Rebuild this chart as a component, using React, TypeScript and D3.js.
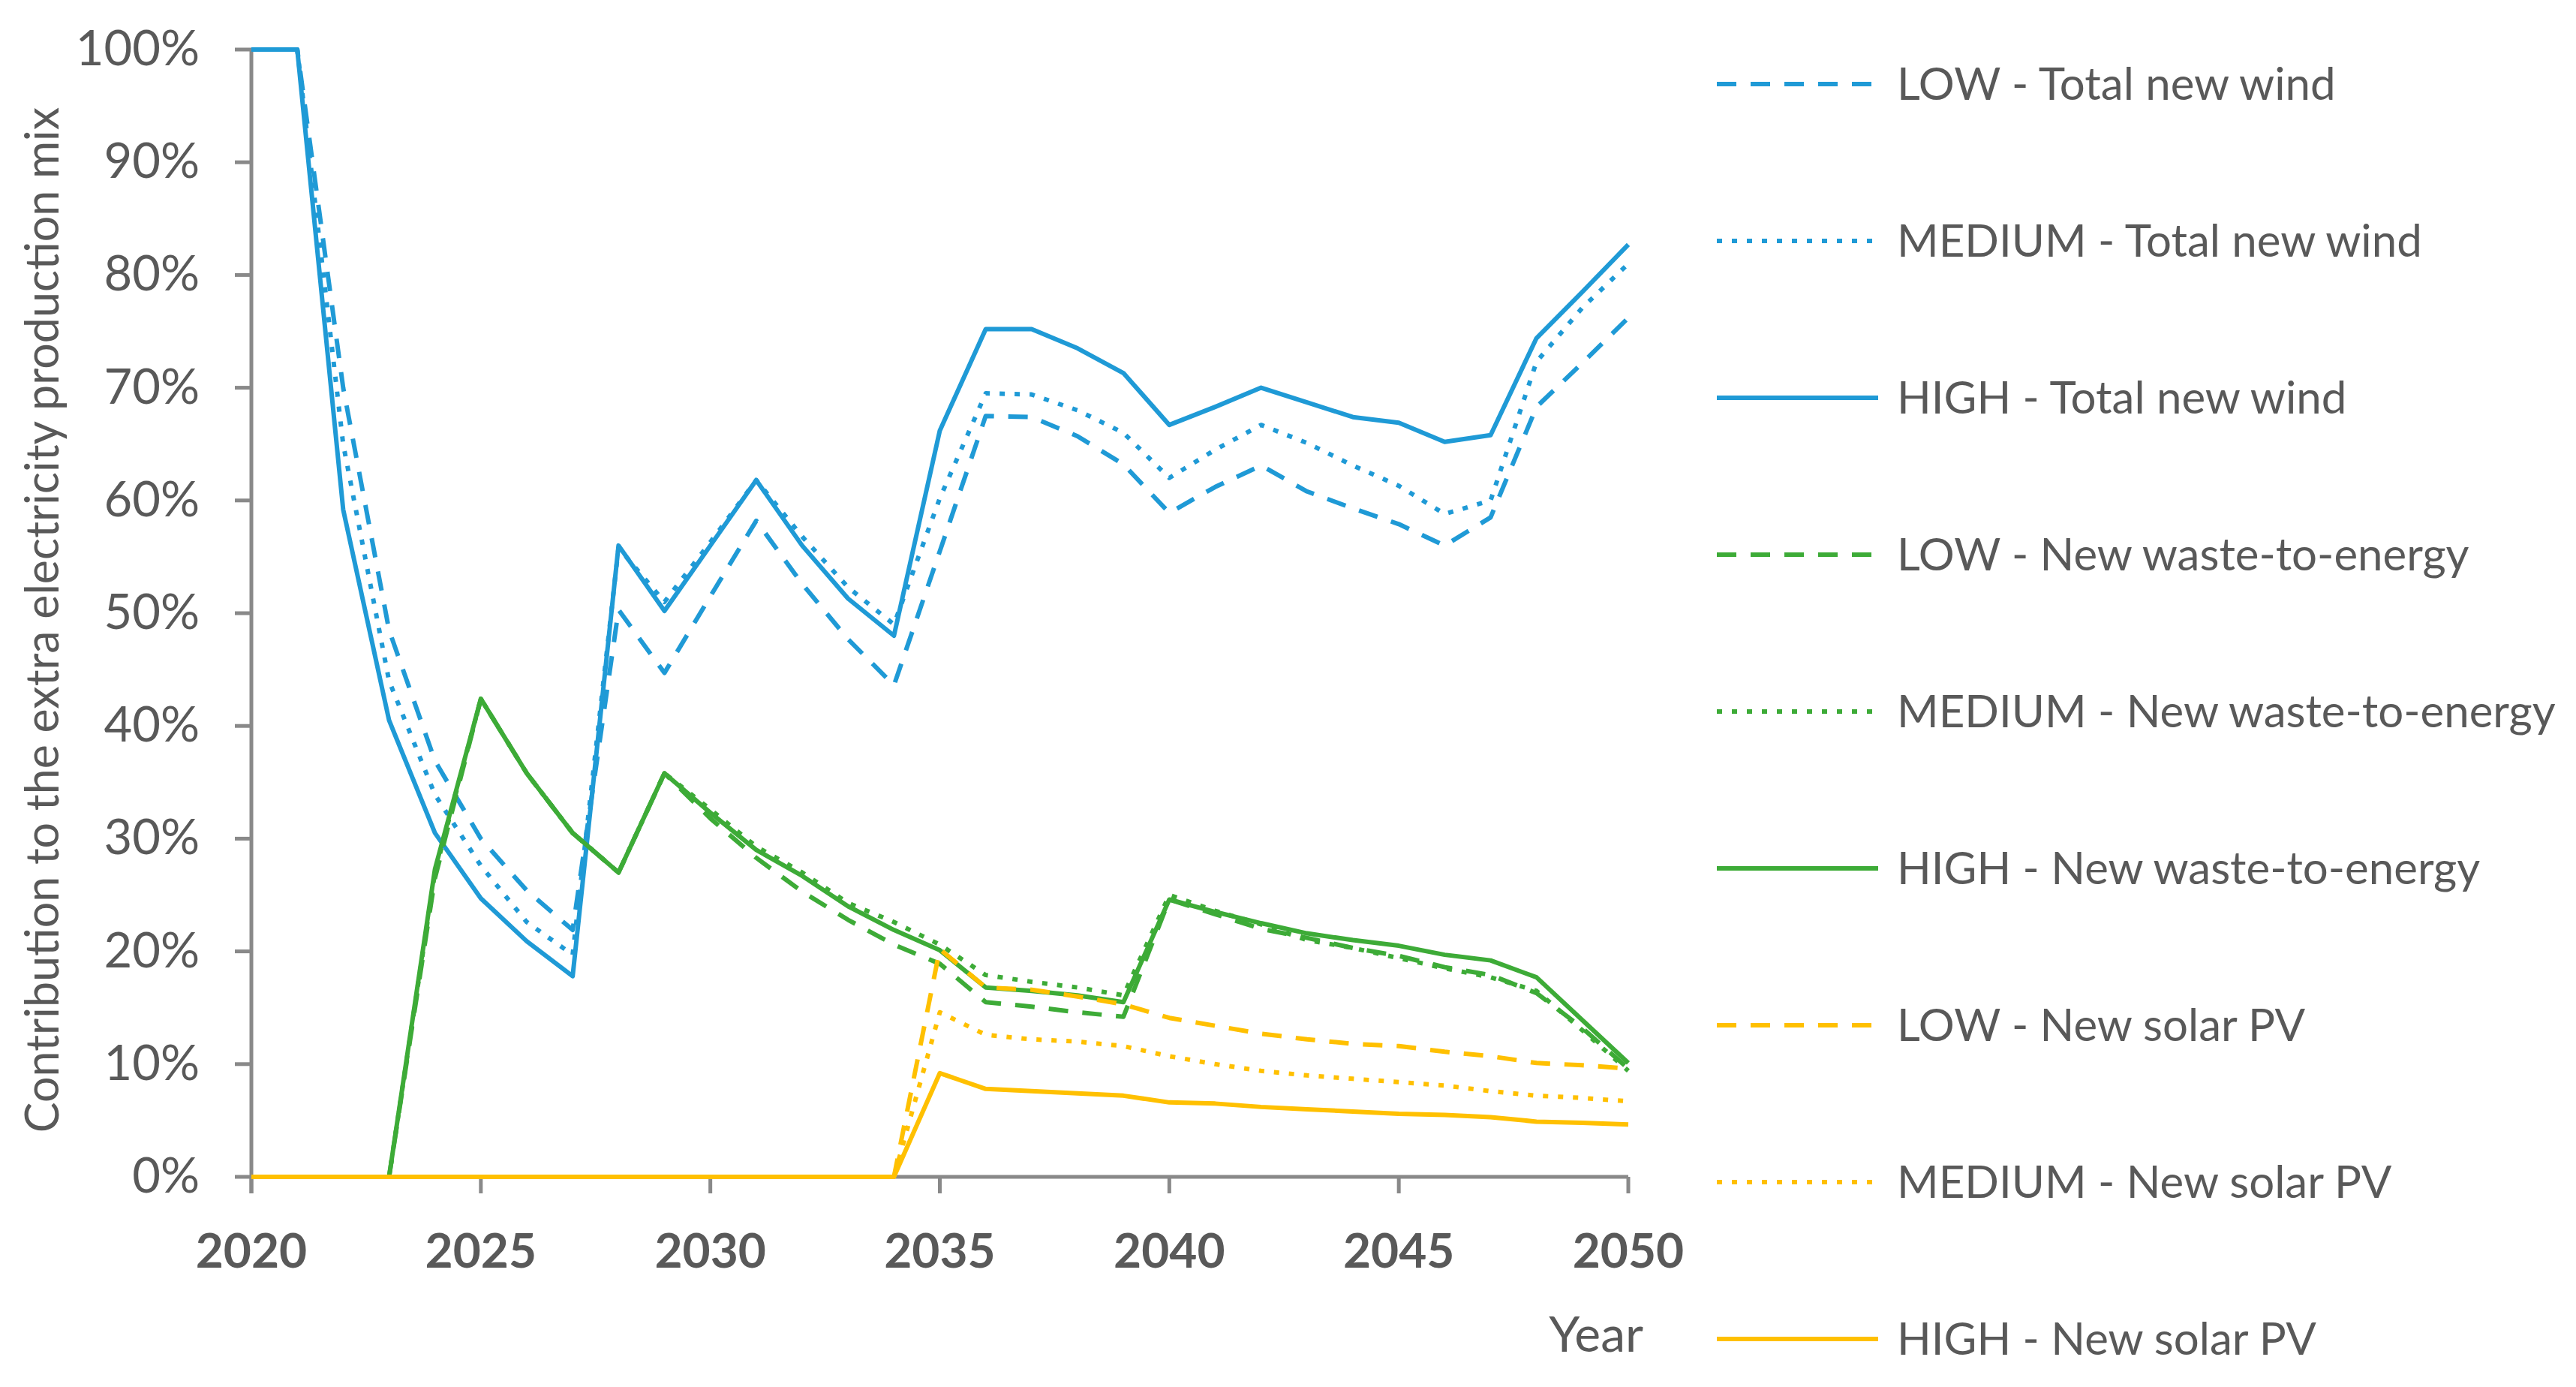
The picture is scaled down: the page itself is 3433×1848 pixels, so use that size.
import * as d3 from 'd3';

// categories
const years = [
  2020, 2021, 2022, 2023, 2024, 2025, 2026, 2027, 2028, 2029, 2030,
  2031, 2032, 2033, 2034, 2035, 2036, 2037, 2038, 2039, 2040,
  2041, 2042, 2043, 2044, 2045, 2046, 2047, 2048, 2049, 2050,
];

// series values (% of the extra electricity production mix)
const windLow = [
  100, 100, 70, 48.5, 36.9, 30.0, 25.4, 21.9, 50.3, 44.7, 51.5,
  58.2, 52.6, 47.7, 43.6, 55.5, 67.5, 67.4, 65.7, 63.2, 58.9,
  61.2, 63.1, 60.8, 59.3, 57.9, 56.0, 58.5, 68.3, 72.2, 76.2,
];
const windMedium = [
  100, 100, 65.0, 44.0, 33.9, 27.6, 22.6, 19.7, 55.8, 51.0, 56.3,
  61.8, 56.8, 52.3, 49.0, 60.2, 69.5, 69.4, 68.0, 66.0, 62.0,
  64.5, 66.7, 65.1, 63.1, 61.3, 58.8, 60.0, 72.3, 77.1, 81.0,
];
const windHigh = [
  100, 100, 59.2, 40.5, 30.5, 24.7, 20.9, 17.8, 56.0, 50.2, 56.0,
  61.8, 56.0, 51.3, 48.0, 66.2, 75.2, 75.2, 73.5, 71.3, 66.7,
  68.3, 70.0, 68.7, 67.4, 66.9, 65.2, 65.8, 74.4, 78.5, 82.7,
];
const wasteLow = [
  0, 0, 0, 0, 26.5, 42.4, 35.8, 30.5, 27.0, 35.8, 31.8,
  28.3, 25.3, 22.8, 20.6, 18.9, 15.5, 15.1, 14.6, 14.2, 24.6,
  23.3, 22.0, 21.2, 20.3, 19.6, 18.6, 17.9, 16.3, 13.2, 9.6,
];
const wasteMedium = [
  0, 0, 0, 0, 27.0, 42.4, 35.8, 30.5, 27.0, 35.8, 32.6,
  29.3, 27.0, 24.3, 22.6, 20.6, 17.9, 17.3, 16.8, 16.1, 25.0,
  23.6, 22.4, 21.0, 20.3, 19.4, 18.5, 17.7, 16.5, 13.0, 9.4,
];
const wasteHigh = [
  0, 0, 0, 0, 27.3, 42.4, 35.8, 30.5, 27.0, 35.8, 32.3,
  29.0, 26.7, 24.0, 21.9, 20.1, 16.8, 16.5, 16.1, 15.5, 24.6,
  23.5, 22.5, 21.6, 21.0, 20.5, 19.7, 19.2, 17.7, 13.9, 10.1,
];
const solarLow = [
  0, 0, 0, 0, 0, 0, 0, 0, 0, 0, 0,
  0, 0, 0, 0, 20.2, 16.8, 16.6, 16.0, 15.3, 14.1,
  13.4, 12.7, 12.2, 11.8, 11.6, 11.1, 10.7, 10.1, 9.9, 9.6,
];
const solarMedium = [
  0, 0, 0, 0, 0, 0, 0, 0, 0, 0, 0,
  0, 0, 0, 0, 14.6, 12.6, 12.2, 12.0, 11.6, 10.7,
  10.0, 9.4, 9.0, 8.7, 8.4, 8.1, 7.6, 7.2, 7.0, 6.7,
];
const solarHigh = [
  0, 0, 0, 0, 0, 0, 0, 0, 0, 0, 0,
  0, 0, 0, 0, 9.2, 7.8, 7.6, 7.4, 7.2, 6.6,
  6.5, 6.2, 6.0, 5.8, 5.6, 5.5, 5.3, 4.9, 4.8, 4.65,
];

// tick labels
const yTicks = [0, 10, 20, 30, 40, 50, 60, 70, 80, 90, 100];
const xTicks = [2020, 2025, 2030, 2035, 2040, 2045, 2050];

const seriesNames = [
  'LOW - Total new wind',
  'MEDIUM - Total new wind',
  'HIGH - Total new wind',
  'LOW - New waste-to-energy',
  'MEDIUM - New waste-to-energy',
  'HIGH - New waste-to-energy',
  'LOW - New solar PV',
  'MEDIUM - New solar PV',
  'HIGH - New solar PV',
];
const seriesValues = [
  windLow, windMedium, windHigh,
  wasteLow, wasteMedium, wasteHigh,
  solarLow, solarMedium, solarHigh,
];

const BLUE = '#1f9ad6';
const GREEN = '#3dab37';
const GOLD = '#ffc000';
const TEXT = '#595959';
const AXIS = '#898989';
const FONT = 'Lato, "Open Sans", sans-serif';

const colorOf = (i: number) => [BLUE, GREEN, GOLD][Math.floor(i / 3)];
const dashOf = (i: number) => ['26 19', '7 13', undefined][i % 3];

export default function App() {
  const width = 3433;
  const height = 1848;

  const x = d3.scaleLinear().domain([2020, 2050]).range([335, 2170]);
  const y = d3.scaleLinear().domain([0, 100]).range([1568, 66]);

  const line = d3
    .line<number>()
    .x((_, i) => x(years[i]))
    .y((d) => y(d));

  const legendX = 2288;
  const legendTop = 112;
  const legendStep = 209;

  return (
    <svg
      width={width}
      height={height}
      style={{ position: 'absolute', left: 0, top: 0, background: '#fff' }}
      fontFamily={FONT}
    >
      {/* axes */}
      <g stroke={AXIS} strokeWidth={5}>
        <line x1={x(2020)} x2={x(2020)} y1={y(100) - 2} y2={y(0) + 22} />
        <line x1={x(2020)} x2={x(2050)} y1={y(0)} y2={y(0)} />
        {yTicks.map((t) => (
          <line key={'yt' + t} x1={x(2020) - 22} x2={x(2020)} y1={y(t)} y2={y(t)} />
        ))}
        {xTicks.map((t) => (
          <line key={'xt' + t} x1={x(t)} x2={x(t)} y1={y(0)} y2={y(0) + 22} />
        ))}
      </g>

      {/* y tick labels */}
      {yTicks.map((t) => (
        <text
          key={'yl' + t}
          x={266}
          y={y(t) + 21}
          textAnchor="end"
          fontSize={65}
          fill={TEXT}
        >
          {t}%
        </text>
      ))}

      {/* x tick labels */}
      {xTicks.map((t) => (
        <text
          key={'xl' + t}
          x={x(t)}
          y={1689}
          textAnchor="middle"
          fontSize={64}
          fontWeight="bold"
          fill={TEXT}
        >
          {t}
        </text>
      ))}

      {/* axis titles */}
      <text
        transform={`translate(78, 826) rotate(-90)`}
        textAnchor="middle"
        fontSize={61}
        fill={TEXT}
      >
        Contribution to the extra electricity production mix
      </text>
      <text x={2190} y={1801} textAnchor="end" fontSize={66} fill={TEXT}>
        Year
      </text>

      {/* series */}
      {seriesValues.map((vals, i) => (
        <path
          key={'s' + i}
          d={line(vals) || ''}
          fill="none"
          stroke={colorOf(i)}
          strokeWidth={6}
          strokeDasharray={dashOf(i)}
          strokeLinejoin="round"
        />
      ))}

      {/* legend */}
      {seriesNames.map((name, i) => {
        const ly = legendTop + i * legendStep;
        return (
          <g key={'lg' + i}>
            <line
              x1={legendX}
              x2={legendX + 215}
              y1={ly}
              y2={ly}
              stroke={colorOf(i)}
              strokeWidth={6}
              strokeDasharray={dashOf(i)}
            />
            <text x={2528} y={ly + 21} fontSize={60} fill={TEXT}>
              {name}
            </text>
          </g>
        );
      })}
    </svg>
  );
}
